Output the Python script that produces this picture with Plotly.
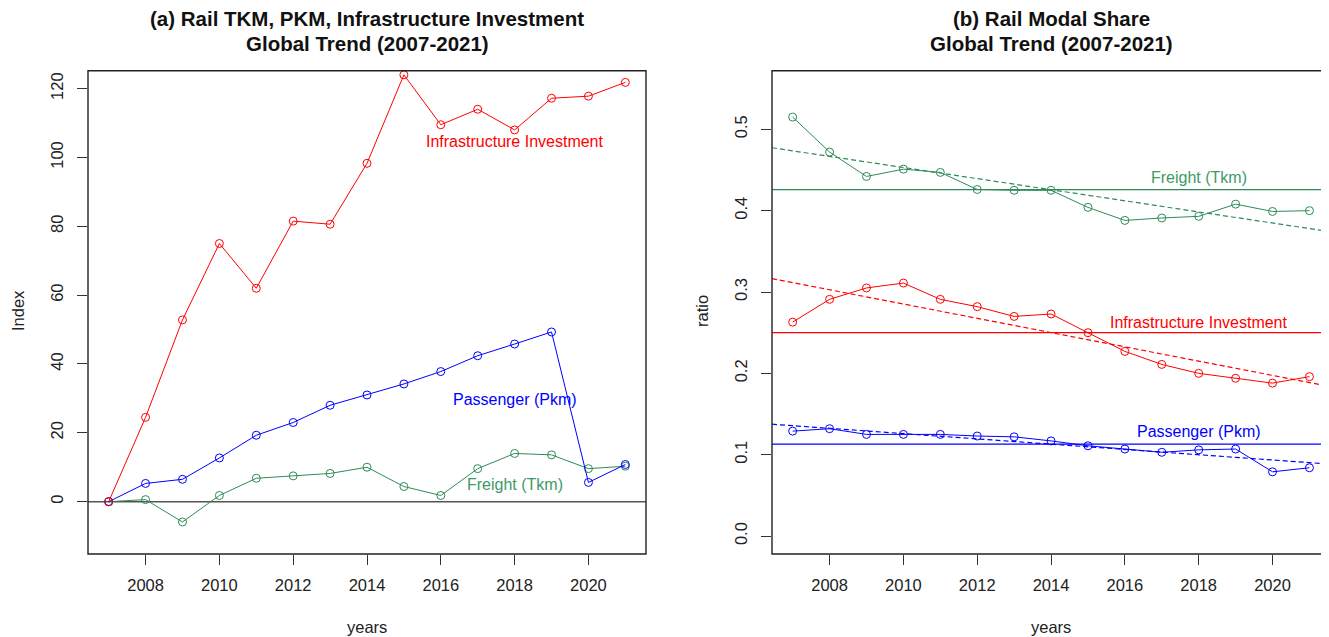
import numpy as np
import plotly.graph_objects as go

years = list(range(2007, 2022))

# Panel (a): index values
infra_idx = [0, 24.5, 52.8, 75.0, 62.0, 81.5, 80.6, 98.3, 124.0, 109.5, 114.0, 108.0, 117.2, 117.8, 121.8]
pass_idx = [0, 5.3, 6.5, 12.7, 19.3, 23.0, 28.0, 31.0, 34.2, 37.8, 42.4, 45.8, 49.3, 5.6, 10.8]
freight_idx = [0, 0.6, -5.9, 1.8, 6.8, 7.5, 8.2, 10.0, 4.4, 1.8, 9.6, 14.0, 13.6, 9.6, 10.3]

# Panel (b): modal share ratios
freight_share = [0.515, 0.472, 0.442, 0.451, 0.447, 0.426, 0.425, 0.425, 0.404, 0.388, 0.391, 0.393, 0.408, 0.399, 0.400]
infra_share = [0.263, 0.291, 0.305, 0.311, 0.291, 0.282, 0.270, 0.273, 0.250, 0.227, 0.211, 0.200, 0.194, 0.188, 0.196]
pass_share = [0.129, 0.132, 0.125, 0.125, 0.125, 0.123, 0.122, 0.117, 0.111, 0.107, 0.103, 0.106, 0.107, 0.079, 0.084]

x_ticks = [2008, 2010, 2012, 2014, 2016, 2018, 2020]
ya_ticks = [0, 20, 40, 60, 80, 100, 120]
yb_ticks = [0.0, 0.1, 0.2, 0.3, 0.4, 0.5]
yb_ticktext = ["0.0", "0.1", "0.2", "0.3", "0.4", "0.5"]

RED = "#FF0000"
BLUE = "#0000FF"
GREEN = "#2E8B57"
LBL_GREEN = "#3E9A66"
FONT = "Liberation Sans, Arial, sans-serif"

# figure is drawn inside the page's 8px body margin
W, H = 1321, 629
xa_range = [2006.44, 2021.56]
ya_range = [-15.2, 125.2]
xb_range = [2006.44, 2021.53]
yb_range = [-0.022, 0.572]

fig = go.Figure()

def series(x, y, color, xa, ya):
    fig.add_trace(go.Scatter(
        x=x, y=y, mode="lines+markers", xaxis=xa, yaxis=ya,
        line=dict(color=color, width=1),
        marker=dict(symbol="circle-open", size=8, color=color, line=dict(width=1, color=color)),
        showlegend=False, hoverinfo="x+y"))

# Panel (a)
fig.add_trace(go.Scatter(x=xa_range, y=[0, 0], mode="lines", xaxis="x", yaxis="y",
                         line=dict(color="#555555", width=1.6), showlegend=False, hoverinfo="skip"))
series(years, freight_idx, GREEN, "x", "y")
series(years, pass_idx, BLUE, "x", "y")
series(years, infra_idx, RED, "x", "y")

# Panel (b)
for vals, color in [(freight_share, GREEN), (infra_share, RED), (pass_share, BLUE)]:
    m = float(np.mean(vals))
    fig.add_trace(go.Scatter(x=xb_range, y=[m, m], mode="lines", xaxis="x2", yaxis="y2",
                             line=dict(color=color, width=1.2), showlegend=False, hoverinfo="skip"))
    slope, icpt = np.polyfit(years, vals, 1)
    fig.add_trace(go.Scatter(x=xb_range, y=[icpt + slope * xb_range[0], icpt + slope * xb_range[1]],
                             mode="lines", xaxis="x2", yaxis="y2",
                             line=dict(color=color, width=1.2, dash="5px,3px"), showlegend=False, hoverinfo="skip"))
    series(years, vals, color, "x2", "y2")

box_top, box_bot = 62.7, 546
dom_ax = [80 / W, 638 / W]
dom_bx = [764 / W, 1.0]
dom_y = [(H - box_bot) / H, (H - box_top) / H]

axis_common = dict(showgrid=False, zeroline=False, showline=False, ticks="outside", ticklen=10,
                   tickcolor="#333333", tickwidth=1.2, tickfont=dict(family=FONT, size=16.5, color="#222222"))

fig.update_layout(
    width=W, height=H, margin=dict(l=0, r=0, t=0, b=0, autoexpand=False),
    plot_bgcolor="white", paper_bgcolor="white", font=dict(family=FONT),
    xaxis=dict(domain=dom_ax, range=xa_range, tickvals=x_ticks, anchor="y", ticklabelstandoff=6, **axis_common),
    yaxis=dict(domain=dom_y, range=ya_range, tickvals=ya_ticks, anchor="x", tickangle=-90, ticklabelstandoff=7, **axis_common),
    xaxis2=dict(domain=dom_bx, range=xb_range, tickvals=x_ticks, anchor="y2", ticklabelstandoff=6, **axis_common),
    yaxis2=dict(domain=dom_y, range=yb_range, tickvals=yb_ticks, ticktext=yb_ticktext, anchor="x2", tickangle=-90,
                ticklabelstandoff=7, **axis_common),
    shapes=[
        dict(type="rect", xref="x domain", yref="y domain", x0=0, x1=1, y0=0, y1=1,
             line=dict(color="#222222", width=1.4)),
        dict(type="rect", xref="x2 domain", yref="y2 domain", x0=0, x1=1.05, y0=0, y1=1,
             line=dict(color="#222222", width=1.4)),
    ],
)

ann = []
def txt(text, x, y, size, color="#222222", angle=0):
    ann.append(dict(text=text, x=x / W, y=1 - y / H, xref="paper", yref="paper", showarrow=False,
                    textangle=angle, font=dict(family=FONT, size=size, color=color),
                    xanchor="center", yanchor="middle"))

cx_a = (80 + 638) / 2
cx_b = (764 + 1322) / 2
txt("<b>(a) Rail TKM, PKM, Infrastructure Investment</b>", cx_a, 10, 20.5, "#111111")
txt("<b>Global Trend (2007-2021)</b>", cx_a, 35, 20.5, "#111111")
txt("<b>(b) Rail Modal Share</b>", cx_b, 10, 20.5, "#111111")
txt("<b>Global Trend (2007-2021)</b>", cx_b, 35, 20.5, "#111111")

txt("years", cx_a, 619, 16.5)
txt("years", cx_b, 619, 16.5)
txt("Index", 10, 303, 16.5, angle=-90)
txt("ratio", 694, 303, 16.5, angle=-90)

labels_a = [("Infrastructure Investment", 2018, 104.5, RED),
            ("Passenger (Pkm)", 2018, 29.8, BLUE),
            ("Freight (Tkm)", 2018, 5.1, LBL_GREEN)]
for t, x, y, c in labels_a:
    ann.append(dict(text=t, x=x, y=y, xref="x", yref="y", showarrow=False,
                    font=dict(family=FONT, size=16, color=c), xanchor="center", yanchor="middle"))
labels_b = [("Freight (Tkm)", 2018, 0.441, LBL_GREEN),
            ("Infrastructure Investment", 2018, 0.263, RED),
            ("Passenger (Pkm)", 2018, 0.128, BLUE)]
for t, x, y, c in labels_b:
    ann.append(dict(text=t, x=x, y=y, xref="x2", yref="y2", showarrow=False,
                    font=dict(family=FONT, size=16, color=c), xanchor="center", yanchor="middle"))

fig.update_layout(annotations=ann)
fig.write_html("out.html")
